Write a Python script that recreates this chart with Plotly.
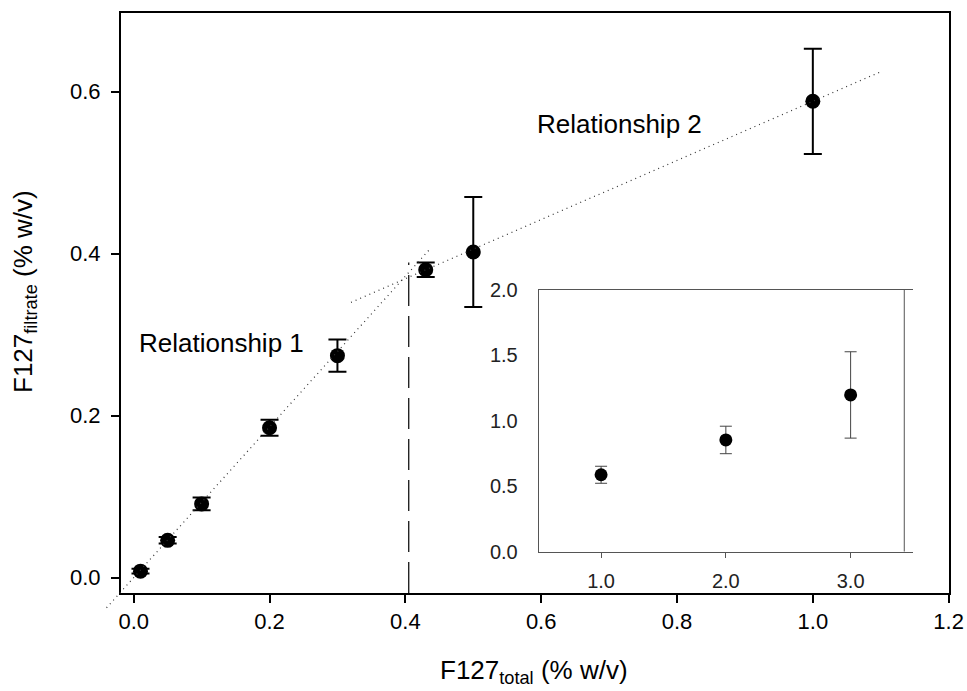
import plotly.graph_objects as go

# ---- data ----
x_total = [0.01, 0.05, 0.1, 0.2, 0.3, 0.43, 0.5, 1.0]
y_filtrate = [0.008, 0.046, 0.091, 0.185, 0.274, 0.380, 0.402, 0.588]
y_err = [0.003, 0.004, 0.008, 0.010, 0.020, 0.009, 0.068, 0.065]

inset_x = [1.0, 2.0, 3.0]
inset_y = [0.588, 0.854, 1.198]
inset_err = [0.065, 0.105, 0.33]

# fitted relationships (slope, intercept, x-span)
rel1_slope, rel1_icpt, rel1_x = 0.93, 0.0, [-0.040, 0.437]
rel2_slope, rel2_icpt, rel2_x = 0.365, 0.223, [0.32, 1.10]
cmc_x = 0.405
cmc_ytop = 0.389

x_ticks = [0.0, 0.2, 0.4, 0.6, 0.8, 1.0, 1.2]
y_ticks = [0.0, 0.2, 0.4, 0.6]
inset_xticks = [1.0, 2.0, 3.0]
inset_yticks = [0.0, 0.5, 1.0, 1.5, 2.0]

# ---- layout geometry (page body margin removed below) ----
W, H = 967, 691
ML, MR, MT, MB = 121, 18, 13, 98
PW, PH = W - ML - MR, H - MT - MB
XR = [-0.0187, 1.2005]
YR = [-0.019, 0.697]
FONT = "Liberation Sans, Arial, sans-serif"

def to_paper_x(v):
    return (v - XR[0]) / (XR[1] - XR[0])

def to_paper_y(v):
    return (v - YR[0]) / (YR[1] - YR[0])

def px_to_paper_x(px):
    return (px - ML) / PW

def px_to_paper_y(py):
    return (H - MB - py) / PH

fig = go.Figure()

# main data
fig.add_trace(go.Scatter(
    x=x_total, y=y_filtrate, mode="markers",
    marker=dict(color="black", size=15),
    error_y=dict(type="data", array=y_err, color="black", thickness=2, width=9),
    showlegend=False, cliponaxis=False,
))

# relationship 2 line
fig.add_trace(go.Scatter(
    x=rel2_x, y=[rel2_slope * v + rel2_icpt for v in rel2_x],
    mode="lines", line=dict(color="#333", width=1.2, dash="1px,4px"),
    showlegend=False, hoverinfo="skip",
))

# relationship 1 line (extends beyond axes, drawn in paper coords)
r1y = [rel1_slope * v + rel1_icpt for v in rel1_x]
fig.add_shape(type="line", xref="paper", yref="paper",
              x0=to_paper_x(rel1_x[0]), y0=to_paper_y(r1y[0]),
              x1=to_paper_x(rel1_x[1]), y1=to_paper_y(r1y[1]),
              line=dict(color="#333", width=1.2, dash="1px,4px"))

# vertical dashed line
fig.add_shape(type="line", xref="x", yref="y",
              x0=cmc_x, x1=cmc_x, y0=YR[0], y1=cmc_ytop,
              line=dict(color="black", width=1.2, dash="31px,10px"))

# inset data
fig.add_trace(go.Scatter(
    x=inset_x, y=inset_y, mode="markers", xaxis="x2", yaxis="y2",
    marker=dict(color="black", size=13),
    error_y=dict(type="data", array=inset_err, color="#444", thickness=1, width=6),
    showlegend=False,
))

# inset right frame line
fig.add_shape(type="line", xref="x2", yref="y2", x0=3.43, x1=3.43, y0=0, y1=2.0,
              line=dict(color="#555", width=1))

inset_dom_x = [px_to_paper_x(538.7), px_to_paper_x(913.0)]
inset_dom_y = [px_to_paper_y(551.7), px_to_paper_y(290.0)]

fig.update_layout(
    width=W, height=H,
    margin=dict(l=ML, r=MR, t=MT, b=MB, autoexpand=False),
    paper_bgcolor="white", plot_bgcolor="white",
    font=dict(family=FONT, color="black"),
    hovermode=False,
    xaxis=dict(range=XR, tickvals=x_ticks, ticktext=[f"{v:.1f}" for v in x_ticks],
               showgrid=False, zeroline=False, showline=True, mirror=True,
               linecolor="black", linewidth=2, ticks="outside", ticklen=8,
               tickwidth=2, tickcolor="black", tickfont=dict(size=22),
               automargin=False),
    yaxis=dict(range=YR, tickvals=y_ticks, ticktext=[f"{v:.1f}" for v in y_ticks],
               showgrid=False, zeroline=False, showline=True, mirror=True,
               linecolor="black", linewidth=2, ticks="outside", ticklen=8,
               tickwidth=2, tickcolor="black", tickfont=dict(size=22),
               ticklabelstandoff=6, automargin=False),
    xaxis2=dict(domain=inset_dom_x, anchor="y2", range=[0.5, 3.5],
                tickvals=inset_xticks, ticktext=[f"{v:.1f}" for v in inset_xticks],
                showgrid=False, zeroline=False, showline=True, mirror=True,
                linecolor="#555", linewidth=1, ticks="outside", ticklen=5,
                tickcolor="#555", tickfont=dict(size=20, color="#222"),
                ticklabelstandoff=6, automargin=False),
    yaxis2=dict(domain=inset_dom_y, anchor="x2", range=[0, 2.0],
                tickvals=inset_yticks, ticktext=[f"{v:.1f}" for v in inset_yticks],
                showgrid=False, zeroline=False, showline=True, mirror=False,
                linecolor="#555", linewidth=1, ticks="",
                tickfont=dict(size=20, color="#222"), ticklabelstandoff=16,
                automargin=False),
    annotations=[
        dict(text="Relationship 1", x=0.005, y=0.29, xref="x", yref="y",
             xanchor="left", yanchor="middle", showarrow=False,
             font=dict(size=26, color="black")),
        dict(text="Relationship 2", x=0.591, y=0.56, xref="x", yref="y",
             xanchor="left", yanchor="middle", showarrow=False,
             font=dict(size=26, color="black")),
        dict(text="F127<sub>total</sub> (% w/v)", x=px_to_paper_x(534), y=px_to_paper_y(672),
             xref="paper", yref="paper", xanchor="center", yanchor="middle",
             showarrow=False, font=dict(size=26, color="black")),
        dict(text="F127<sub>filtrate</sub> (% w/v)", x=px_to_paper_x(24),
             y=px_to_paper_y(292), xref="paper", yref="paper",
             xanchor="center", yanchor="middle", textangle=-90,
             showarrow=False, font=dict(size=26, color="black")),
    ],
)

fig.write_html("out.html",
               config={"displayModeBar": False, "staticPlot": True},
               post_script="document.body.style.margin='0';document.body.style.overflow='hidden';")
